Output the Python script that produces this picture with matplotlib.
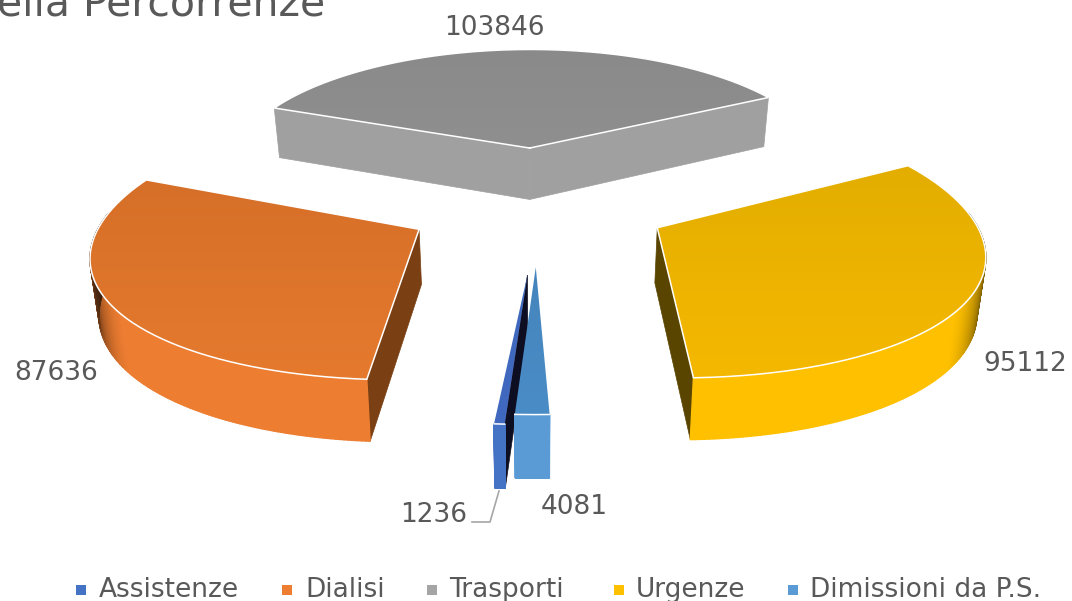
import matplotlib

matplotlib.use("Agg")
import matplotlib.pyplot as plt
import numpy as np
from matplotlib.collections import PolyCollection
from matplotlib.colors import LinearSegmentedColormap, to_rgb
from matplotlib.patches import Polygon

labels = ["Assistenze", "Dialisi", "Trasporti", "Urgenze", "Dimissioni da P.S."]
values = [1236, 87636, 103846, 95112, 4081]
value_text = ["1236", "87636", "103846", "95112", "4081"]
side_colors = ["#4472C4", "#ED7D31", "#A5A5A5", "#FFC000", "#5B9BD5"]
top_back = ["#3F68BE", "#D66F28", "#8A8A8A", "#E3AE00", "#4585BD"]
top_front = ["#3F68BE", "#E57A2E", "#8F8F8F", "#F5B800", "#4A8CC6"]
wall_colors = ["#0E0E22", "#7A3F12", "#A0A0A0", "#5A4500", "#4A8CC6"]
legend_colors = ["#4472C4", "#ED7D31", "#A5A5A5", "#FFC000", "#5B9BD5"]

# where the labels and legend entries sit, in image pixels
label_pos = [(434, 515), (56, 373), (494, 28), (1025, 364), (574, 507)]
legend_mark_x = [81, 287, 432, 619, 793]
legend_text_x = [99, 305, 449, 636, 810]

CX, CY = 537, 204.6
SCALE_X, SCALE_Y = 312, 119
PERSP_X, PERSP_Y = 7.0, 10.0
DEPTH = 54
TAPER = 0.98
START_ANGLE = 183
EXPLODE_U = 0.43
# per slice tweaks of the explosion and the radius front to back
explode_v = [0.56, 0.39, 0.5, 0.39, 0.5]
radius_v = [1.0, 1.08, 1.0, 1.08, 1.0]


def project(u, v):
    u, v = np.asarray(u), np.asarray(v)
    return CX + SCALE_X * u / (1 + v / PERSP_X), CY - SCALE_Y * v / (1 + v / PERSP_Y)


def wall_height(v):
    return DEPTH / (1 + np.asarray(v) / PERSP_Y)


def foot(x):
    return CX + (x - CX) * TAPER


def darken(color, f):
    return tuple(c * f for c in to_rgb(color))


def arc_shade(a):
    # the rim goes dark where it turns away toward left and right
    s = np.abs(np.sin(np.radians(a)))
    return 1 - 0.75 * np.clip((s - 0.8) / 0.2, 0, 1) ** 1.6


def draw_top(ax, xs, ys, back, front, zorder, closed_outline=True):
    poly = Polygon(np.column_stack([xs, ys]), closed=True, fc="none", ec="none", zorder=zorder)
    ax.add_patch(poly)
    cmap = LinearSegmentedColormap.from_list("top", [back, front])
    img = ax.imshow(
        np.linspace(0, 1, 64).reshape(-1, 1),
        cmap=cmap,
        extent=(xs.min(), xs.max(), ys.max(), ys.min()),
        aspect="auto",
        zorder=zorder,
    )
    img.set_clip_path(poly)
    if closed_outline:
        ax.plot(np.r_[xs, xs[0]], np.r_[ys, ys[0]], color="white", lw=1.1, zorder=zorder + 0.1, solid_joinstyle="miter")
    else:
        # thin slices: white only along the rim or the tip disappears
        ax.plot(xs[1:], ys[1:], color="white", lw=1.1, zorder=zorder + 0.1)


def draw_wall(ax, p0, p1, color, zorder):
    (u0, v0), (u1, v1) = p0, p1
    x0, y0 = project(u0, v0)
    x1, y1 = project(u1, v1)
    quad = [(x0, y0), (x1, y1), (foot(x1), y1 + wall_height(v1)), (foot(x0), y0 + wall_height(v0))]
    ax.add_patch(Polygon(quad, closed=True, fc=color, ec=color, lw=0.5, zorder=zorder))


def draw_slice(ax, i, a0, a1, zorder):
    mid = np.radians((a0 + a1) / 2)
    ou, ov = EXPLODE_U * np.sin(mid), explode_v[i] * np.cos(mid)
    ang = np.linspace(a0, a1, 160)
    u = ou + np.sin(np.radians(ang))
    v = ov + radius_v[i] * np.cos(np.radians(ang))

    # radial walls, only those facing the viewer
    start = (u[0], v[0])
    end = (u[-1], v[-1])
    apex = (ou, ov)
    if i == 2:
        draw_wall(ax, apex, start, wall_colors[i], zorder)
        draw_wall(ax, apex, end, wall_colors[i], zorder)
    elif i in (0, 1):
        draw_wall(ax, apex, start, wall_colors[i], zorder)
    elif i == 3:
        draw_wall(ax, apex, end, wall_colors[i], zorder)

    # outer rim as thin quads so the shading can vary along it
    x, y = project(u, v)
    h = wall_height(v)
    quads, cols = [], []
    for k in range(len(ang) - 1):
        if np.cos(np.radians(ang[k])) > 0.12:
            continue
        quads.append(
            [(x[k], y[k]), (x[k + 1], y[k + 1]), (foot(x[k + 1]), y[k + 1] + h[k + 1]), (foot(x[k]), y[k] + h[k])]
        )
        cols.append(darken(side_colors[i], arc_shade(ang[k])))
    if quads:
        ax.add_collection(PolyCollection(quads, facecolors=cols, edgecolors=cols, linewidths=1.0, zorder=zorder + 0.1))

    ax_, ay_ = project(ou, ov)
    xs = np.r_[ax_, x]
    ys = np.r_[ay_, y]
    draw_top(ax, xs, ys, top_back[i], top_front[i], zorder + 0.2, closed_outline=i not in (0, 4))


def main():
    fig = plt.figure(figsize=(10.72, 6.01), dpi=100)
    ax = fig.add_axes([0, 0, 1, 1])

    total = sum(values)
    spans = [val / total * 360 for val in values]
    starts = START_ANGLE + np.r_[0, np.cumsum(spans)[:-1]]
    for z, i in enumerate([2, 1, 3, 0, 4]):
        draw_slice(ax, i, starts[i], starts[i] + spans[i], 2 + z)

    for i, txt in enumerate(value_text):
        ax.text(label_pos[i][0], label_pos[i][1], txt, fontsize=19, color="#595959", ha="center", va="center", zorder=10)
    # leader line of the smallest slice
    ax.plot([472, 490, 499], [522, 522, 491], color="#A6A6A6", lw=1.2, zorder=9)

    ax.text(-3, 16, "ella Percorrenze", fontsize=29.5, color="#595959", ha="left", va="baseline", zorder=10)

    for i, name in enumerate(labels):
        ax.scatter([legend_mark_x[i]], [590], marker="s", s=50, color=legend_colors[i], linewidths=0, zorder=10)
        ax.text(legend_text_x[i], 597, name, fontsize=19, color="#595959", ha="left", va="baseline", zorder=10)

    ax.set_xlim(0, 1072)
    ax.set_ylim(601, 0)
    ax.axis("off")
    fig.savefig("out.png", dpi=100)
    plt.close(fig)


if __name__ == "__main__":
    main()
